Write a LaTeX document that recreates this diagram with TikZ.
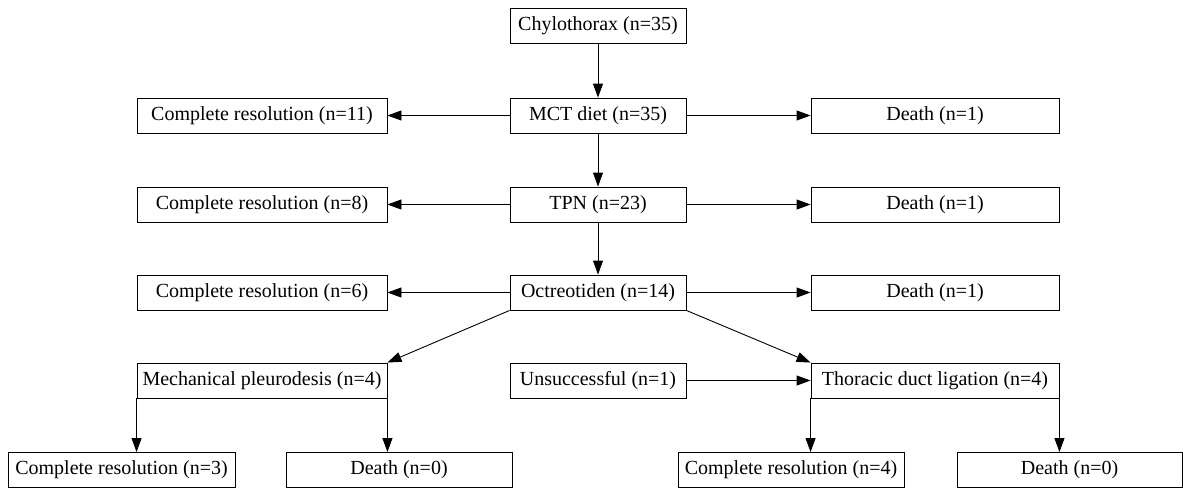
\documentclass[tikz,border=0pt]{standalone}
\usepackage{fontspec}
\setmainfont{Liberation Serif}
\usetikzlibrary{arrows.meta}
\begin{document}
\begin{tikzpicture}[x=1pt,y=-1pt,
  box/.style={draw, line width=0.9pt, inner sep=0pt, minimum height=35pt, font=\fontsize{20}{24}\selectfont},
  arr/.style={line width=0.9pt, -{Triangle[length=14pt,width=10pt]}},
  lnk/.style={line width=0.9pt}]
\useasboundingbox (0,0) rectangle (1183,488);
% row 0
\node[box, minimum width=176pt] (chy) at (598,25.5) {Chylothorax (n=35)};
% row 1
\node[box, minimum width=176pt] (mct) at (598,115.5) {MCT diet (n=35)};
\node[box, minimum width=250pt] (cr11) at (262,115.5) {Complete resolution (n=11)};
\node[box, minimum width=248pt] (d1a) at (935,115.5) {Death (n=1)};
% row 2
\node[box, minimum width=176pt] (tpn) at (598,204.5) {TPN (n=23)};
\node[box, minimum width=250pt] (cr8) at (262,204.5) {Complete resolution (n=8)};
\node[box, minimum width=248pt] (d1b) at (935,204.5) {Death (n=1)};
% row 3
\node[box, minimum width=176pt] (oct) at (598,292.5) {Octreotiden (n=14)};
\node[box, minimum width=250pt] (cr6) at (262,292.5) {Complete resolution (n=6)};
\node[box, minimum width=248pt] (d1c) at (935,292.5) {Death (n=1)};
% row 4
\node[box, minimum width=250pt] (mech) at (262,380.5) {Mechanical pleurodesis (n=4)};
\node[box, minimum width=176pt] (uns) at (598,380.5) {Unsuccessful (n=1)};
\node[box, minimum width=248pt] (tdl) at (935,380.5) {Thoracic duct ligation (n=4)};
% row 5
\node[box, minimum width=227pt] (cr3) at (121.5,470) {Complete resolution (n=3)};
\node[box, minimum width=226pt] (d0l) at (399,470) {Death (n=0)};
\node[box, minimum width=226pt] (cr4) at (791,470) {Complete resolution (n=4)};
\node[box, minimum width=225pt] (d0r) at (1069.5,470) {Death (n=0)};
% connectors
\draw[arr] (chy) -- (mct);
\draw[arr] (mct) -- (tpn);
\draw[arr] (tpn) -- (oct);
\draw[arr] (mct) -- (cr11);
\draw[arr] (mct) -- (d1a);
\draw[arr] (tpn) -- (cr8);
\draw[arr] (tpn) -- (d1b);
\draw[arr] (oct) -- (cr6);
\draw[arr] (oct) -- (d1c);
\draw[arr] (oct.south west) -- (mech.north east);
\draw[arr] (oct.south east) -- (tdl.north west);
\draw[arr] (uns) -- (tdl);
\draw[arr] (mech.south west) -- (mech.south west |- cr3.north);
\draw[arr] (mech.south east) -- (mech.south east |- d0l.north);
\draw[arr] (tdl.south west) -- (tdl.south west |- cr4.north);
\draw[arr] (tdl.south east) -- (tdl.south east |- d0r.north);
\end{tikzpicture}
\end{document}
